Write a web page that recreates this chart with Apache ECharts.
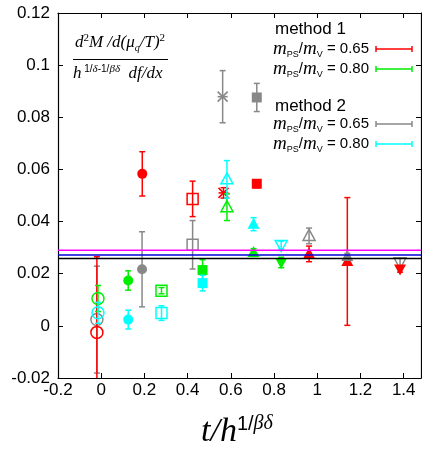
<!DOCTYPE html>
<html>
<head>
<meta charset="utf-8">
<script src="https://cdn.jsdelivr.net/npm/echarts@6/dist/echarts.min.js"></script>
<style>
html, body { margin: 0; padding: 0; background: #fff; }
#main { width: 422px; height: 453px; }
</style>
</head>
<body>
<div id="main"></div>
<script>
var dom = document.getElementById("main");
var myChart = echarts.init(dom);

// x ticks and y ticks
var xTicks = [-0.2, 1.48, 0.2];   // min, max, interval
var yTicks = [-0.02, 0.12, 0.02];

// horizontal reference lines (magenta, blue, black)
var refLines = [0.029, 0.0272, 0.0258];

// each point: [t/h^(1/bd), value, error]
// method 1, mPS/mV = 0.65 (red)
var red_emptyCircle = [[-0.02, -0.0025, 0.029]];
var red_circle = [[0.19, 0.0583, 0.0085]];
var red_emptyRect = [[0.423, 0.0487, 0.0068]];
var red_star = [[0.566, 0.051, 0.002]];
var red_rect = [[0.72, 0.0545, 0.0015]];
var red_emptyTriangle = [[0.962, 0.0276, 0.003]];
var red_triangle = [[1.139, 0.0247, 0.0245]];
var red_downTriangle = [[1.383, 0.0218, 0.0012]];

// method 1, mPS/mV = 0.80 (green)
var green_emptyCircle = [[-0.015, 0.0105, 0.005]];
var green_circle = [[0.125, 0.0174, 0.0037]];
var green_emptyRect = [[0.279, 0.0135, 0.0012]];
var green_rect = [[0.469, 0.0214, 0.004]];
var green_emptyTriangle = [[0.582, 0.0455, 0.0051]];
var green_triangle = [[0.705, 0.0281, 0.0015]];
var green_downTriangle = [[0.833, 0.0243, 0.002]];

// method 2, mPS/mV = 0.65 (gray)
var gray_emptyCircle = [[-0.02, 0.0024, 0.0205]];
var gray_circle = [[0.189, 0.0217, 0.0144]];
var gray_emptyRect = [[0.423, 0.0311, 0.0093]];
var gray_star = [[0.562, 0.0879, 0.01]];
var gray_rect = [[0.72, 0.0876, 0.0054]];
var gray_emptyTriangle = [[0.962, 0.0345, 0.003]];
var gray_triangle = [[1.139, 0.0266, 0.0012]];
var gray_emptyDownTriangle = [[1.383, 0.0244, 0.0015]];

// method 2, mPS/mV = 0.80 (cyan)
var cyan_emptyCircle = [[-0.015, 0.005, 0.004]];
var cyan_circle = [[0.125, 0.0024, 0.0036]];
var cyan_emptyRect = [[0.279, 0.0049, 0.0028]];
var cyan_rect = [[0.469, 0.0164, 0.003]];
var cyan_emptyTriangle = [[0.582, 0.0562, 0.0072]];
var cyan_triangle = [[0.705, 0.039, 0.0025]];
var cyan_emptyDownTriangle = [[0.833, 0.031, 0.0015]];

var RED = '#ff0000', GREEN = '#00ee00', GRAY = '#888888', CYAN = '#00ffff';
var SANS = 'Liberation Sans, Arial, sans-serif';
var SERIF = 'Liberation Serif, Times New Roman, serif';

function marker(shape, p, color) {
    var x = p[0], y = p[1];
    var fill = { fill: color };
    var line = { fill: 'none', stroke: color, lineWidth: 1.5 };
    switch (shape) {
        case 'circle':
            return { type: 'circle', shape: { cx: x, cy: y, r: 5 }, style: fill };
        case 'emptyCircle':
            return { type: 'circle', shape: { cx: x, cy: y, r: 6 }, style: line };
        case 'rect':
            return { type: 'rect', shape: { x: x - 5, y: y - 5, width: 10, height: 10 }, style: fill };
        case 'emptyRect':
            return { type: 'rect', shape: { x: x - 5.5, y: y - 5.5, width: 11, height: 11 }, style: line };
        case 'triangle':
            return { type: 'polygon', shape: { points: [[x, y - 6.5], [x - 6, y + 4.5], [x + 6, y + 4.5]] }, style: fill };
        case 'emptyTriangle':
            return { type: 'polygon', shape: { points: [[x, y - 6.5], [x - 6, y + 4.5], [x + 6, y + 4.5]] }, style: line };
        case 'downTriangle':
            return { type: 'polygon', shape: { points: [[x, y + 6.5], [x - 6, y - 4.5], [x + 6, y - 4.5]] }, style: fill };
        case 'emptyDownTriangle':
            return { type: 'polygon', shape: { points: [[x, y + 6.5], [x - 6, y - 4.5], [x + 6, y - 4.5]] }, style: line };
        default: // asterisk
            var s = 5, ls = { stroke: color, lineWidth: 1.6 };
            return {
                type: 'group',
                children: [
                    { type: 'line', shape: { x1: x - s, y1: y, x2: x + s, y2: y }, style: ls },
                    { type: 'line', shape: { x1: x - s, y1: y - s, x2: x + s, y2: y + s }, style: ls },
                    { type: 'line', shape: { x1: x - s, y1: y + s, x2: x + s, y2: y - s }, style: ls }
                ]
            };
    }
}

function errSeries(data, color, shape) {
    return {
        type: 'custom',
        clip: true,
        data: data,
        renderItem: function (params, api) {
            var x = api.value(0), y = api.value(1), e = api.value(2);
            var p = api.coord([x, y]);
            var t = api.coord([x, y + e]);
            var b = api.coord([x, y - e]);
            var cw = 3;
            var ls = { stroke: color, lineWidth: 1.5 };
            return {
                type: 'group',
                children: [
                    marker(shape, p, color),
                    { type: 'line', shape: { x1: p[0], y1: t[1], x2: p[0], y2: b[1] }, style: ls },
                    { type: 'line', shape: { x1: p[0] - cw, y1: t[1], x2: p[0] + cw, y2: t[1] }, style: ls },
                    { type: 'line', shape: { x1: p[0] - cw, y1: b[1], x2: p[0] + cw, y2: b[1] }, style: ls }
                ]
            };
        }
    };
}

var series = [
    errSeries(gray_emptyCircle, GRAY, 'emptyCircle'),
    errSeries(gray_circle, GRAY, 'circle'),
    errSeries(gray_emptyRect, GRAY, 'emptyRect'),
    errSeries(gray_star, GRAY, 'star'),
    errSeries(gray_rect, GRAY, 'rect'),
    errSeries(gray_emptyTriangle, GRAY, 'emptyTriangle'),
    errSeries(gray_emptyDownTriangle, GRAY, 'emptyDownTriangle'),
    errSeries(red_emptyCircle, RED, 'emptyCircle'),
    errSeries(red_circle, RED, 'circle'),
    errSeries(red_emptyRect, RED, 'emptyRect'),
    errSeries(red_star, RED, 'star'),
    errSeries(red_rect, RED, 'rect'),
    errSeries(red_emptyTriangle, RED, 'triangle'),
    errSeries(red_triangle, RED, 'triangle'),
    errSeries(red_downTriangle, RED, 'downTriangle'),
    errSeries(gray_triangle, GRAY, 'triangle'),
    errSeries(green_emptyCircle, GREEN, 'emptyCircle'),
    errSeries(green_circle, GREEN, 'circle'),
    errSeries(green_emptyRect, GREEN, 'emptyRect'),
    errSeries(green_rect, GREEN, 'rect'),
    errSeries(green_emptyTriangle, GREEN, 'emptyTriangle'),
    errSeries(green_triangle, GREEN, 'triangle'),
    errSeries(green_downTriangle, GREEN, 'downTriangle'),
    errSeries(cyan_emptyCircle, CYAN, 'emptyCircle'),
    errSeries(cyan_circle, CYAN, 'circle'),
    errSeries(cyan_emptyRect, CYAN, 'emptyRect'),
    errSeries(cyan_rect, CYAN, 'rect'),
    errSeries(cyan_emptyTriangle, CYAN, 'emptyTriangle'),
    errSeries(cyan_triangle, CYAN, 'triangle'),
    errSeries(cyan_emptyDownTriangle, CYAN, 'emptyDownTriangle')
];

var refColors = ['#ff00ff', '#0000dd', '#000000'];
for (var k = 0; k < refLines.length; k++) {
    series.push({
        type: 'line',
        z: 5,
        symbol: 'none',
        silent: true,
        lineStyle: { color: refColors[k], width: 1.5 },
        data: [[xTicks[0], refLines[k]], [xTicks[1], refLines[k]]]
    });
}

function axisBase(showLabel) {
    return {
        type: 'value',
        axisLine: { show: true, onZero: false, lineStyle: { color: '#000', width: 1.2 } },
        axisTick: { show: true, inside: true, length: 5, lineStyle: { color: '#000', width: 1 } },
        axisLabel: { show: showLabel, color: '#000', fontSize: 17, fontFamily: SANS, showMaxLabel: false },
        splitLine: { show: false }
    };
}

var xb = axisBase(true), xt = axisBase(false);
var yl = axisBase(true), yr = axisBase(false);
[xb, xt].forEach(function (a) { a.min = xTicks[0]; a.max = xTicks[1]; a.interval = xTicks[2]; });
[yl, yr].forEach(function (a) { a.min = yTicks[0]; a.max = yTicks[1]; a.interval = yTicks[2]; });
xb.position = 'bottom'; xt.position = 'top';
xb.axisLabel.margin = 4;
yl.position = 'left'; yr.position = 'right';
yl.axisLabel.showMaxLabel = true;
yl.axisLabel.margin = 8;

// legend entries
var legendText = [
    ['method 1', null, 32],
    ['0.65', RED, 49],
    ['0.80', GREEN, 69],
    ['method 2', null, 109],
    ['0.65', GRAY, 124],
    ['0.80', CYAN, 144]
];

var ratioRich = {
    mi: { fontFamily: SERIF, fontStyle: 'italic', fontSize: 19, verticalAlign: 'middle', lineHeight: 20, color: '#000' },
    sub: { fontFamily: SANS, fontSize: 9, verticalAlign: 'bottom', lineHeight: 20, color: '#000' },
    n: { fontFamily: SANS, fontSize: 15, verticalAlign: 'middle', lineHeight: 20, color: '#000' }
};

var graphics = [];
legendText.forEach(function (e) {
    if (!e[1]) {
        graphics.push({
            type: 'text', left: 275, top: e[2] - 11,
            style: { text: e[0], font: '17px ' + SANS, fill: '#000' }
        });
    } else {
        graphics.push({
            type: 'text', x: 369, y: e[2],
            style: {
                text: '{mi|m}{sub|PS}{n|/}{mi|m}{sub|V}{n| = ' + e[0] + '}',
                rich: ratioRich, align: 'right', verticalAlign: 'middle'
            }
        });
        var ls = { stroke: e[1], lineWidth: 1.5 };
        graphics.push({ type: 'line', shape: { x1: 376, y1: e[2], x2: 412, y2: e[2] }, style: ls });
        graphics.push({ type: 'line', shape: { x1: 376, y1: e[2] - 3, x2: 376, y2: e[2] + 3 }, style: ls });
        graphics.push({ type: 'line', shape: { x1: 412, y1: e[2] - 3, x2: 412, y2: e[2] + 3 }, style: ls });
    }
});

// y quantity (fraction)
var fracRich = {
    i: { fontFamily: SERIF, fontStyle: 'italic', fontSize: 17, verticalAlign: 'middle', lineHeight: 20, color: '#000' },
    sup: { fontFamily: SERIF, fontSize: 11, verticalAlign: 'top', lineHeight: 20, color: '#000' },
    sub: { fontFamily: SERIF, fontStyle: 'italic', fontSize: 10, verticalAlign: 'bottom', lineHeight: 20, color: '#000' },
    s: { fontFamily: SANS, fontSize: 10, verticalAlign: 'top', lineHeight: 20, color: '#000' },
    sg: { fontFamily: SERIF, fontStyle: 'italic', fontSize: 11, verticalAlign: 'top', lineHeight: 20, color: '#000' }
};
graphics.push({
    type: 'text', x: 120, y: 43,
    style: { text: '{i|d}{sup|2}{i|M /d(μ}{sub|q}{i|/T)}{sup|2}', rich: fracRich, align: 'center', verticalAlign: 'middle' }
});
graphics.push({ type: 'line', shape: { x1: 73, y1: 59.5, x2: 168, y2: 59.5 }, style: { stroke: '#000', lineWidth: 1 } });
graphics.push({
    type: 'text', x: 73, y: 74,
    style: { text: '{i|h}{s| 1/}{sg|δ}{s|-1/}{sg|βδ}{i|  df/dx}', rich: fracRich, align: 'left', verticalAlign: 'middle' }
});

// x quantity
graphics.push({
    type: 'text', x: 201, y: 432,
    style: {
        text: '{i|t/h}{s|1/}{g|βδ}',
        rich: {
            i: { fontFamily: SERIF, fontStyle: 'italic', fontSize: 34, verticalAlign: 'middle', lineHeight: 36, color: '#000' },
            s: { fontFamily: SANS, fontSize: 20, verticalAlign: 'top', lineHeight: 36, color: '#222' },
            g: { fontFamily: SERIF, fontStyle: 'italic', fontSize: 20, verticalAlign: 'top', lineHeight: 36, color: '#555' }
        },
        align: 'left', verticalAlign: 'middle'
    }
});

var option = {
    backgroundColor: '#fff',
    animation: false,
    grid: { left: 58, right: 1, top: 13, bottom: 75 },
    xAxis: [xb, xt],
    yAxis: [yl, yr],
    series: series,
    graphic: graphics
};

myChart.setOption(option);
</script>
</body>
</html>
